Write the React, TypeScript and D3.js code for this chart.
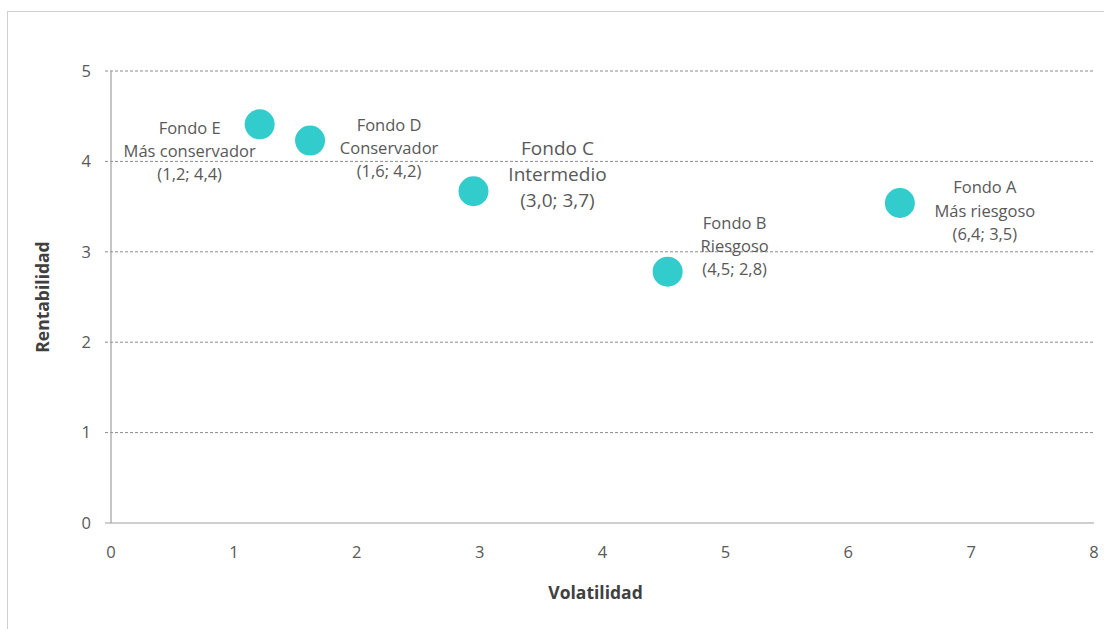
import React from 'react';
import * as d3 from 'd3';

// fondos de pensiones: volatilidad vs rentabilidad
const fondos = ['E', 'D', 'C', 'B', 'A'];
const volatilidad = [1.21, 1.62, 2.95, 4.53, 6.42];
const rentabilidad = [4.41, 4.23, 3.67, 2.78, 3.54];
const etiquetas = [
  ['Fondo E', 'Más conservador', '(1,2; 4,4)'],
  ['Fondo D', 'Conservador', '(1,6; 4,2)'],
  ['Fondo C', 'Intermedio', '(3,0; 3,7)'],
  ['Fondo B', 'Riesgoso', '(4,5; 2,8)'],
  ['Fondo A', 'Más riesgoso', '(6,4; 3,5)'],
];
const xTicks = [0, 1, 2, 3, 4, 5, 6, 7, 8];
const yTicks = [0, 1, 2, 3, 4, 5];

// label placement relative to the point (dx, dy of middle line, font size, line height)
const labelLayout = [
  { dx: -70, dy: 27, size: 16.5, lh: 23 },
  { dx: 79, dy: 8, size: 16.5, lh: 23 },
  { dx: 84, dy: -17, size: 19, lh: 26 },
  { dx: 67, dy: -25, size: 16.5, lh: 23 },
  { dx: 85, dy: 8, size: 16.5, lh: 23.5 },
];

const W = 1104;
const H = 629;
const m = { left: 111, right: 10, top: 71, bottom: 106 };
const font = "'Open Sans', 'Noto Sans', sans-serif";
const textColor = '#595959';

const App = () => {
  const x = d3.scaleLinear().domain([0, 8]).range([m.left, W - m.right]);
  const y = d3.scaleLinear().domain([0, 5]).range([H - m.bottom, m.top]);

  return (
    <svg width={W} height={H} style={{ position: 'absolute', left: 0, top: 0, background: '#fff' }}>
      <rect x={7.5} y={11.5} width={W + 10} height={H + 10} fill="#fff" stroke="#d0d0d0" />

      {/* gridlines */}
      {yTicks.slice(1).map((t) => (
        <line key={'g' + t} x1={x(0) - 6} x2={x(8)} y1={y(t)} y2={y(t)}
          stroke="#8c8c8c" strokeWidth={1} strokeDasharray="3,2" />
      ))}

      {/* axes */}
      <line x1={x(0)} x2={x(0)} y1={y(0)} y2={y(5)} stroke="#a0a0a0" strokeWidth={1.2} />
      <line x1={x(0) - 6} x2={x(8)} y1={y(0)} y2={y(0)} stroke="#a0a0a0" strokeWidth={1.2} />

      {yTicks.map((t) => (
        <text key={'yt' + t} x={x(0) - 20} y={y(t)} dy="0.35em" textAnchor="end"
          fontFamily={font} fontSize={16.5} fill={textColor}>{t}</text>
      ))}
      {xTicks.map((t) => (
        <text key={'xt' + t} x={x(t)} y={y(0) + 29} dy="0.35em" textAnchor="middle"
          fontFamily={font} fontSize={16.5} fill={textColor}>{t}</text>
      ))}

      <text transform={`translate(43,${(y(0) + y(5)) / 2}) rotate(-90)`} textAnchor="middle" dy="0.35em"
        fontFamily={font} fontSize={17.5} fontWeight="bold" fill="#404040">Rentabilidad</text>
      <text x={(x(0) + x(8)) / 2 - 7} y={593} textAnchor="middle" dy="0.35em"
        fontFamily={font} fontSize={17.5} fontWeight="bold" fill="#404040">Volatilidad</text>

      {fondos.map((f, i) => (
        <circle key={'p' + f} cx={x(volatilidad[i])} cy={y(rentabilidad[i])} r={15} fill="#33cccc" />
      ))}

      {fondos.map((f, i) => {
        const l = labelLayout[i];
        const cx = x(volatilidad[i]) + l.dx;
        const cy = y(rentabilidad[i]) + l.dy;
        return (
          <text key={'l' + f} textAnchor="middle" fontFamily={font} fontSize={l.size} fill={textColor}>
            {etiquetas[i].map((s, j) => (
              <tspan key={j} x={cx} y={cy + (j - 1) * l.lh} dy="0.35em">{s}</tspan>
            ))}
          </text>
        );
      })}
    </svg>
  );
};

export default App;
